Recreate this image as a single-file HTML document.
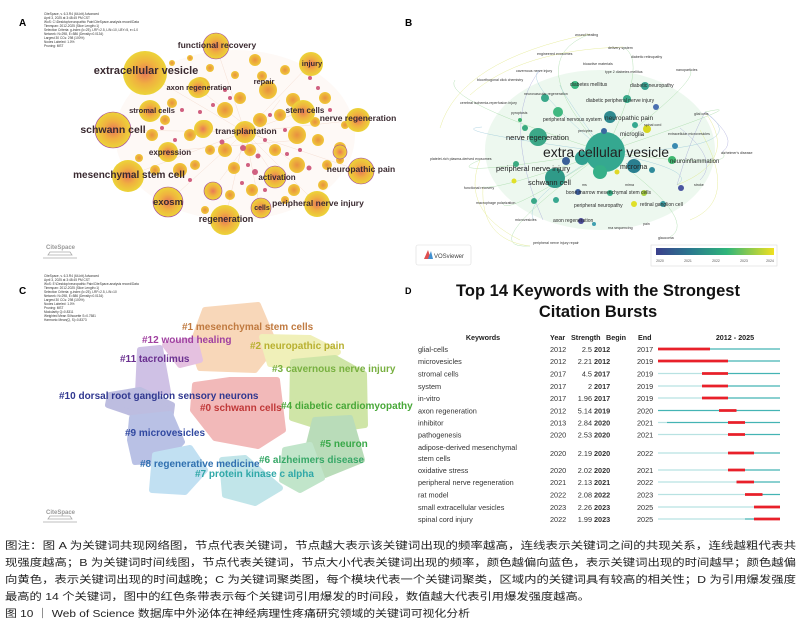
<!DOCTYPE html>
<html><head><meta charset="utf-8"><style>
body{margin:0;background:#fff}
svg{display:block}
text{font-family:"Liberation Sans","Noto Sans CJK SC",sans-serif}
</style></head><body>
<svg width="809" height="632" viewBox="0 0 809 632" xmlns="http://www.w3.org/2000/svg">
<defs>
<radialGradient id="ga"><stop offset="0" stop-color="#e87858"/><stop offset="0.5" stop-color="#f0b040"/><stop offset="1" stop-color="#ecd438"/></radialGradient>
<radialGradient id="gb"><stop offset="0" stop-color="#e89040"/><stop offset="1" stop-color="#f0c838"/></radialGradient>
<linearGradient id="vir" x1="0" x2="1"><stop offset="0" stop-color="#3b3f8c"/><stop offset="0.3" stop-color="#2a7a8e"/><stop offset="0.6" stop-color="#2fb57a"/><stop offset="1" stop-color="#f0e020"/></linearGradient>
</defs>
<rect width="809" height="632" fill="#fff"/>

<!-- PANEL A -->
<text x="19" y="26" font-size="10" font-weight="bold">A</text>
<g font-size="3.2" fill="#333"><text x="44" y="15">CiteSpace, v. 6.3.R4 (64-bit) Advanced</text><text x="44" y="19">April 3, 2025 at 3:48:45 PM CST</text><text x="44" y="23">WoS: C:\Desktop\neuropathic Pain\CiteSpace-analysis record\Data</text><text x="44" y="27">Timespan: 2012-2025 (Slice Length=1)</text><text x="44" y="31">Selection Criteria: g-index (k=25), LRF=2.5, L/N=10, LBY=5, e=1.0</text><text x="44" y="35">Network: N=298, E=586 (Density=0.0134)</text><text x="44" y="39">Largest 30 CCs: 298 (100%)</text><text x="44" y="43">Nodes Labeled: 1.0%</text><text x="44" y="47">Pruning: MST</text></g>
<ellipse cx="235" cy="135" rx="120" ry="85" fill="#fdf5f0" opacity="0.6"/>
<g stroke="#f0d0c0" stroke-width="0.4" fill="none" opacity="0.8">
<path d="M145 73 L245 132 L303 111 M113 130 L245 132 L361 171 M128 176 L245 132 L317 204 M168 202 L245 132 L225 220 M216 46 L245 132 L310 64 M358 120 L245 132 L275 177 M260 208 L245 132 M200 90 L290 160 M180 150 L300 140 M220 180 L280 100"/>
</g>
<g fill="url(#gb)">
<circle cx="200" cy="87" r="10"/><circle cx="172" cy="103" r="5"/><circle cx="152" cy="135" r="6"/><circle cx="190" cy="135" r="6"/><circle cx="205" cy="128" r="8"/><circle cx="225" cy="110" r="8"/><circle cx="240" cy="98" r="6"/><circle cx="255" cy="60" r="6"/><circle cx="262" cy="76" r="5"/><circle cx="268" cy="90" r="9"/><circle cx="285" cy="70" r="5"/><circle cx="293" cy="100" r="7"/><circle cx="325" cy="98" r="6"/><circle cx="318" cy="140" r="6"/><circle cx="297" cy="135" r="9"/><circle cx="275" cy="150" r="6"/><circle cx="225" cy="150" r="7"/><circle cx="195" cy="165" r="5"/><circle cx="180" cy="170" r="7"/><circle cx="234" cy="168" r="6"/><circle cx="252" cy="190" r="6"/><circle cx="215" cy="188" r="5"/><circle cx="230" cy="195" r="5"/><circle cx="294" cy="190" r="6"/><circle cx="297" cy="165" r="8"/><circle cx="327" cy="165" r="5"/><circle cx="340" cy="148" r="6"/><circle cx="315" cy="122" r="5"/><circle cx="345" cy="125" r="4"/><circle cx="172" cy="63" r="3"/><circle cx="190" cy="58" r="3"/><circle cx="210" cy="68" r="4"/><circle cx="235" cy="75" r="4"/><circle cx="280" cy="115" r="6"/><circle cx="260" cy="120" r="7"/><circle cx="250" cy="150" r="6"/><circle cx="210" cy="150" r="5"/><circle cx="165" cy="120" r="5"/><circle cx="139" cy="158" r="4"/><circle cx="155" cy="170" r="5"/><circle cx="323" cy="185" r="5"/><circle cx="340" cy="160" r="4"/><circle cx="285" cy="200" r="4"/><circle cx="205" cy="210" r="4"/></g>
<g fill="#d06080">
<circle cx="182" cy="110" r="2"/><circle cx="200" cy="112" r="2"/><circle cx="213" cy="105" r="2"/><circle cx="225" cy="90" r="2"/><circle cx="222" cy="142" r="2.5"/><circle cx="243" cy="148" r="3"/><circle cx="258" cy="156" r="2.5"/><circle cx="255" cy="172" r="3"/><circle cx="248" cy="165" r="2"/><circle cx="265" cy="140" r="2"/><circle cx="270" cy="115" r="2"/><circle cx="285" cy="130" r="2"/><circle cx="309" cy="168" r="2.5"/><circle cx="287" cy="154" r="2"/><circle cx="175" cy="140" r="2"/><circle cx="162" cy="128" r="2"/><circle cx="265" cy="190" r="2"/><circle cx="242" cy="183" r="2"/><circle cx="230" cy="98" r="2"/><circle cx="300" cy="150" r="2"/><circle cx="310" cy="78" r="2"/><circle cx="318" cy="88" r="2"/><circle cx="330" cy="110" r="2"/><circle cx="190" cy="180" r="2"/></g>
<g fill="url(#ga)">
<circle cx="145" cy="73" r="22"/><circle cx="113" cy="130" r="18" stroke="#a040a0" stroke-width="0.6"/><circle cx="128" cy="176" r="16"/><circle cx="168" cy="202" r="15" stroke="#a040a0" stroke-width="0.6"/><circle cx="225" cy="220" r="15"/><circle cx="317" cy="204" r="13"/><circle cx="361" cy="171" r="13" stroke="#a040a0" stroke-width="0.6"/><circle cx="358" cy="120" r="12"/><circle cx="311" cy="64" r="12"/><circle cx="216" cy="46" r="13" stroke="#a040a0" stroke-width="0.6"/><circle cx="261" cy="208" r="10" stroke="#a040a0" stroke-width="0.6"/><circle cx="275" cy="177" r="11" stroke="#a040a0" stroke-width="0.6"/><circle cx="245" cy="132" r="11"/><circle cx="303" cy="112" r="12"/><circle cx="150" cy="111" r="11"/><circle cx="198" cy="88" r="10"/><circle cx="213" cy="191" r="9" stroke="#a040a0" stroke-width="0.6"/><circle cx="168" cy="152" r="10"/><circle cx="203" cy="129" r="9"/><circle cx="340" cy="152" r="7" stroke="#a040a0" stroke-width="0.6"/></g>
<g font-weight="bold" fill="#3a2a30" text-anchor="middle">
<text x="146" y="74" font-size="11">extracellular vesicle</text>
<text x="217" y="48" font-size="8.5">functional recovery</text>
<text x="312" y="66" font-size="7.5">injury</text>
<text x="264" y="84" font-size="7.5">repair</text>
<text x="199" y="90" font-size="7.5">axon regeneration</text>
<text x="152" y="113" font-size="7.5">stromal cells</text>
<text x="305" y="113" font-size="8">stem cells</text>
<text x="358" y="121" font-size="8.5">nerve regeneration</text>
<text x="113" y="133" font-size="10.5">schwann cell</text>
<text x="246" y="134" font-size="8.5">transplantation</text>
<text x="170" y="155" font-size="8">expression</text>
<text x="129" y="178" font-size="10">mesenchymal stem cell</text>
<text x="361" y="172" font-size="8.5">neuropathic pain</text>
<text x="277" y="180" font-size="8">activation</text>
<text x="168" y="205" font-size="9.5">exosm</text>
<text x="318" y="206" font-size="8.5">peripheral nerve injury</text>
<text x="262" y="210" font-size="7">cells</text>
<text x="226" y="222" font-size="9">regeneration</text>
</g>
<text x="46" y="249" font-size="6" fill="#999" font-weight="bold">CiteSpace</text>
<path d="M43 258 L77 258 M48 255 L72 255 L70 252 L50 252 Z" stroke="#aaa" fill="none" stroke-width="0.8"/>

<!-- PANEL B -->
<text x="405" y="26" font-size="10" font-weight="bold">B</text>
<ellipse cx="600" cy="150" rx="115" ry="80" fill="#d8f0dc" opacity="0.45"/>
<g fill="none" stroke-width="0.5" opacity="0.6">
<path d="M605 152 Q520 60 590 34 M605 152 Q650 60 623 47 M605 152 Q440 100 455 80 M605 152 Q430 180 480 160 M605 152 Q470 250 530 246 M605 152 Q700 220 670 237 M605 152 Q760 100 705 112 M605 152 Q740 170 722 152 M605 152 Q700 80 690 70 M605 152 Q500 190 483 187 M605 152 Q500 220 503 202" stroke="#8cd08c"/>
<path d="M605 152 Q520 80 540 70 M605 152 Q560 90 560 85 M605 152 Q760 150 705 112 M605 152 Q700 170 677 185 M605 152 Q520 200 534 220 M605 152 Q440 130 482 127" stroke="#7fb9d0"/>
<path d="M440 128 Q460 60 590 34 M483 187 Q480 240 530 246 M705 112 Q740 160 677 185 M470 95 Q520 50 623 47 M480 160 Q460 210 520 240 M700 130 Q740 200 690 220" stroke="#d8e060"/>
<path d="M705 112 Q740 140 722 152 M705 112 Q690 140 677 185 M540 70 Q500 120 543 220 M680 128 Q720 160 700 180" stroke="#9090d0"/>
</g>
<g>
<circle cx="605" cy="152" r="20" fill="#35a890"/><circle cx="538" cy="137" r="9" fill="#3ca888"/><circle cx="555" cy="178" r="10" fill="#2f9a88"/><circle cx="582" cy="158" r="7" fill="#30a090"/><circle cx="600" cy="172" r="7" fill="#35b088"/><circle cx="634" cy="166" r="7" fill="#2a7f90"/><circle cx="610" cy="117" r="6" fill="#2f8a90"/><circle cx="558" cy="112" r="5" fill="#40b880"/><circle cx="545" cy="98" r="4" fill="#3aa88a"/><circle cx="575" cy="85" r="4" fill="#3cb882"/><circle cx="627" cy="99" r="4" fill="#38a888"/><circle cx="645" cy="86" r="4" fill="#38a090"/><circle cx="635" cy="125" r="3" fill="#35a890"/><circle cx="652" cy="170" r="3" fill="#2f8a9a"/><circle cx="672" cy="160" r="4" fill="#40b870"/><circle cx="566" cy="161" r="4" fill="#3a6098"/><circle cx="525" cy="128" r="3" fill="#3aaa80"/><circle cx="556" cy="200" r="3" fill="#38a890"/><circle cx="578" cy="192" r="3" fill="#3a5a98"/><circle cx="647" cy="129" r="4" fill="#d8d820"/><circle cx="617" cy="172" r="2.5" fill="#e0d828"/><circle cx="663" cy="204" r="3" fill="#3a9aa0"/><circle cx="610" cy="193" r="3" fill="#38b088"/><circle cx="681" cy="188" r="3" fill="#4a55a0"/><circle cx="656" cy="107" r="3" fill="#4a70b0"/><circle cx="604" cy="131" r="3" fill="#3a6aa0"/><circle cx="516" cy="164" r="3" fill="#3aaa80"/><circle cx="634" cy="204" r="3" fill="#e0e028"/><circle cx="644" cy="193" r="3" fill="#a8d040"/><circle cx="581" cy="221" r="3" fill="#4a4a98"/><circle cx="514" cy="181" r="2.5" fill="#e0e028"/><circle cx="534" cy="201" r="3" fill="#3aa888"/><circle cx="675" cy="146" r="3" fill="#3a8ab0"/><circle cx="520" cy="120" r="2" fill="#40b070"/><circle cx="594" cy="224" r="2" fill="#40a0b0"/></g>
<g fill="#333" font-size="3.6">
<text x="575" y="36">wound healing</text><text x="608" y="49">delivery system</text><text x="537" y="55">engineered exosomes</text><text x="631" y="58">diabetic retinopathy</text><text x="583" y="65">bioactive materials</text><text x="605" y="73">type 2 diabetes mellitus</text><text x="516" y="72">cavernous nerve injury</text><text x="676" y="71">nanoparticles</text><text x="477" y="81">bioorthogonal click chemistry</text><text x="524" y="95">neurovascular regeneration</text><text x="460" y="104">cerebral ischemia-reperfusion injury</text><text x="511" y="114">pyroptosis</text><text x="694" y="115">glial cells</text><text x="644" y="126">spinal cord</text><text x="668" y="135">extracellular microvesicles</text><text x="578" y="132">pericytes</text><text x="430" y="160">platelet-rich plasma-derived exosomes</text><text x="721" y="154">alzheimer's disease</text><text x="464" y="189">functional recovery</text><text x="694" y="186">stroke</text><text x="582" y="186">ms</text><text x="625" y="186">mirna</text><text x="476" y="204">macrophage polarization</text><text x="515" y="221">microvesicles</text><text x="658" y="239">glaucoma</text><text x="643" y="225">pain</text><text x="533" y="244">peripheral nerve injury repair</text><text x="608" y="229">rna sequencing</text></g>
<g fill="#2a2a2a" font-size="5">
<text x="570" y="86">diabetes mellitus</text><text x="630" y="87">diabetic neuropathy</text><text x="586" y="102">diabetic peripheral nerve injury</text><text x="543" y="121">peripheral nervous system</text><text x="605" y="120" font-size="6.5">neuropathic pain</text><text x="620" y="136" font-size="6">microglia</text><text x="670" y="163" font-size="6">neuroinflammation</text><text x="566" y="194">bone marrow mesenchymal stem cells</text><text x="574" y="207">peripheral neuropathy</text><text x="640" y="206">retinal ganglion cell</text><text x="553" y="222">axon regeneration</text></g>
<g fill="#222"><text x="506" y="140" font-size="7.5">nerve regeneration</text><text x="496" y="171" font-size="7.5">peripheral nerve injury</text><text x="528" y="185" font-size="7.5">schwann cell</text><text x="620" y="169" font-size="7">microrna</text><text x="543" y="157" font-size="14">extra cellular vesicle</text></g>
<rect x="416" y="245" width="55" height="20" rx="2" fill="#fff" stroke="#ddd" stroke-width="0.6"/>
<path d="M424 259 L428 250 L431 259 Z" fill="#e05050"/><path d="M428 259 L431 251 L433 259Z" fill="#4090d0"/>
<text x="434" y="258" font-size="6" fill="#444">VOSviewer</text>
<rect x="651" y="245" width="126" height="21" fill="#fff" stroke="#ddd" stroke-width="0.6"/>
<rect x="656" y="248" width="118" height="7" fill="url(#vir)"/>
<g font-size="3.5" fill="#555" text-anchor="middle"><text x="660" y="262">2020</text><text x="688" y="262">2021</text><text x="716" y="262">2022</text><text x="744" y="262">2023</text><text x="770" y="262">2024</text></g>

<!-- PANEL C -->
<text x="19" y="294" font-size="10" font-weight="bold">C</text>
<g font-size="3.2" fill="#333"><text x="44" y="277">CiteSpace, v. 6.3.R4 (64-bit) Advanced</text><text x="44" y="281">April 3, 2025 at 3:48:45 PM CST</text><text x="44" y="285">WoS: E:\Desktop\neuropathic Pain\CiteSpace-analysis record\Data</text><text x="44" y="289">Timespan: 2012-2025 (Slice Length=1)</text><text x="44" y="293">Selection Criteria: g-index (k=25), LRF=2.5, L/N=10</text><text x="44" y="297">Network: N=298, E=586 (Density=0.0134)</text><text x="44" y="301">Largest 30 CCs: 298 (100%)</text><text x="44" y="305">Nodes Labeled: 1.0%</text><text x="44" y="309">Pruning: MST</text><text x="44" y="313">Modularity Q=0.8311</text><text x="44" y="317">Weighted Mean Silhouette S=0.7581</text><text x="44" y="321">Harmonic Mean(Q, S)=0.8373</text></g>
<g opacity="0.55" stroke-linejoin="round" stroke-width="6">
<path d="M205 310 L258 305 L275 345 L255 370 L200 368 L192 345 Z" fill="#f4b880" stroke="#f4b880"/>
<path d="M165 345 L195 340 L200 360 L180 365 Z" fill="#d090c8" stroke="#d090c8"/>
<path d="M262 337 L310 338 L338 352 L315 367 L270 364 Z" fill="#e4e480" stroke="#e4e480"/>
<path d="M140 350 L160 348 L168 392 L138 393 Z" fill="#a890d0" stroke="#a890d0"/>
<path d="M110 395 L140 390 L172 405 L170 420 L140 416 L108 405 Z" fill="#8888c8" stroke="#8888c8"/>
<path d="M195 385 L230 380 L277 380 L283 430 L258 446 L215 438 L193 410 Z" fill="#e88080" stroke="#e88080"/>
<path d="M293 362 L335 358 L364 374 L365 425 L330 430 L292 418 Z" fill="#a8d060" stroke="#a8d060"/>
<path d="M132 418 L170 414 L182 442 L165 460 L135 462 L130 440 Z" fill="#8090d0" stroke="#8090d0"/>
<path d="M315 420 L350 418 L362 460 L325 475 L305 460 Z" fill="#80c080" stroke="#80c080"/>
<path d="M285 450 L310 445 L322 478 L300 490 L282 480 Z" fill="#90d0a0" stroke="#90d0a0"/>
<path d="M155 455 L190 448 L205 470 L185 492 L152 490 Z" fill="#90c8e8" stroke="#90c8e8"/>
<path d="M222 460 L245 458 L280 488 L255 503 L225 495 Z" fill="#90d0d8" stroke="#90d0d8"/>
</g>
<g font-size="10" font-weight="bold">
<text x="182" y="330" fill="#c07a40">#1 mesenchymal stem cells</text>
<text x="142" y="343" fill="#a040a0">#12 wound healing</text>
<text x="250" y="349" fill="#b8b030">#2 neuropathic pain</text>
<text x="120" y="362" fill="#6a3090">#11 tacrolimus</text>
<text x="272" y="372" fill="#78b040">#3 cavernous nerve injury</text>
<text x="59" y="399" fill="#303890">#10 dorsal root ganglion sensory neurons</text>
<text x="200" y="411" fill="#c03838">#0 schwann cells</text>
<text x="281" y="409" fill="#48a838">#4 diabetic cardiomyopathy</text>
<text x="125" y="436" fill="#3048a0">#9 microvesicles</text>
<text x="320" y="447" fill="#38a848">#5 neuron</text>
<text x="259" y="463" fill="#38a868">#6 alzheimers disease</text>
<text x="140" y="467" fill="#3070b0">#8 regenerative medicine</text>
<text x="195" y="477" fill="#30a8a8">#7 protein kinase c alpha</text>
</g>
<text x="46" y="514" font-size="6" fill="#999" font-weight="bold">CiteSpace</text>
<path d="M43 522 L77 522 M48 519 L72 519 L70 516 L50 516 Z" stroke="#aaa" fill="none" stroke-width="0.8"/>

<!-- PANEL D -->
<text x="405" y="294" font-size="9" font-weight="bold">D</text>
<text x="598" y="296" font-size="16.5" font-weight="bold" text-anchor="middle" fill="#111">Top 14 Keywords with the Strongest</text>
<text x="598" y="317" font-size="16.5" font-weight="bold" text-anchor="middle" fill="#111">Citation Bursts</text>
<g font-size="7.2" font-weight="bold" fill="#222"><text x="483" y="340" text-anchor="middle">Keywords</text><text x="550" y="340">Year</text><text x="571" y="340">Strength</text><text x="606" y="340">Begin</text><text x="638" y="340">End</text><text x="735" y="340" text-anchor="middle">2012 - 2025</text></g>
<g font-size="7.3" fill="#333">
<text x="418" y="352">glial-cells</text><text x="418" y="364">microvesicles</text><text x="418" y="376.5">stromal cells</text><text x="418" y="389">system</text><text x="418" y="401">in-vitro</text><text x="418" y="413.5">axon regeneration</text><text x="418" y="425.5">inhibitor</text><text x="418" y="437.5">pathogenesis</text><text x="418" y="450">adipose-derived mesenchymal</text><text x="418" y="461">stem cells</text><text x="418" y="473">oxidative stress</text><text x="418" y="485">peripheral nerve regeneration</text><text x="418" y="497.5">rat model</text><text x="418" y="510">small extracellular vesicles</text><text x="418" y="522">spinal cord injury</text>
</g>
<g font-size="7.3" fill="#333">
<g><text x="550" y="352">2012</text><text x="592" y="352" text-anchor="end">2.5</text><text x="594" y="352" font-weight="bold">2012</text><text x="637" y="352">2017</text></g>
<g><text x="550" y="364">2012</text><text x="592" y="364" text-anchor="end">2.21</text><text x="594" y="364" font-weight="bold">2012</text><text x="637" y="364">2019</text></g>
<g><text x="550" y="376.5">2017</text><text x="592" y="376.5" text-anchor="end">4.5</text><text x="594" y="376.5" font-weight="bold">2017</text><text x="637" y="376.5">2019</text></g>
<g><text x="550" y="389">2017</text><text x="592" y="389" text-anchor="end">2</text><text x="594" y="389" font-weight="bold">2017</text><text x="637" y="389">2019</text></g>
<g><text x="550" y="401">2017</text><text x="592" y="401" text-anchor="end">1.96</text><text x="594" y="401" font-weight="bold">2017</text><text x="637" y="401">2019</text></g>
<g><text x="550" y="413.5">2012</text><text x="592" y="413.5" text-anchor="end">5.14</text><text x="594" y="413.5" font-weight="bold">2019</text><text x="637" y="413.5">2020</text></g>
<g><text x="550" y="425.5">2013</text><text x="592" y="425.5" text-anchor="end">2.84</text><text x="594" y="425.5" font-weight="bold">2020</text><text x="637" y="425.5">2021</text></g>
<g><text x="550" y="437.5">2020</text><text x="592" y="437.5" text-anchor="end">2.53</text><text x="594" y="437.5" font-weight="bold">2020</text><text x="637" y="437.5">2021</text></g>
<g><text x="550" y="456">2020</text><text x="592" y="456" text-anchor="end">2.19</text><text x="594" y="456" font-weight="bold">2020</text><text x="637" y="456">2022</text></g>
<g><text x="550" y="473">2020</text><text x="592" y="473" text-anchor="end">2.02</text><text x="594" y="473" font-weight="bold">2020</text><text x="637" y="473">2021</text></g>
<g><text x="550" y="485">2021</text><text x="592" y="485" text-anchor="end">2.13</text><text x="594" y="485" font-weight="bold">2021</text><text x="637" y="485">2022</text></g>
<g><text x="550" y="497.5">2022</text><text x="592" y="497.5" text-anchor="end">2.08</text><text x="594" y="497.5" font-weight="bold">2022</text><text x="637" y="497.5">2023</text></g>
<g><text x="550" y="510">2023</text><text x="592" y="510" text-anchor="end">2.26</text><text x="594" y="510" font-weight="bold">2023</text><text x="637" y="510">2025</text></g>
<g><text x="550" y="522">2022</text><text x="592" y="522" text-anchor="end">1.99</text><text x="594" y="522" font-weight="bold">2023</text><text x="637" y="522">2025</text></g>
</g>
<g stroke-width="1.3" fill="none">
<g stroke="#b8e2e2"><path d="M658 373.5H702 M658 386H702 M658 398H702 M658 422.5H667 M658 434.5H728 M658 453H728 M658 470H728 M658 482H736.5 M658 494.5H745 M658 507H754 M658 519H745"/></g>
<g stroke="#44b4b4"><path d="M658 349H780 M658 361H780 M702 373.5H780 M702 386H780 M702 398H780 M658 410.5H780 M667 422.5H780 M728 434.5H780 M728 453H780 M728 470H780 M736.5 482H780 M745 494.5H780 M754 507H780 M745 519H780"/></g>
</g>
<g stroke="#e8202a" stroke-width="2.8" fill="none">
<path d="M658 349H710 M658 361H728 M702 373.5H728 M702 386H728 M702 398H728 M719 410.5H736.5 M728 422.5H745 M728 434.5H745 M728 453H754 M728 470H745 M736.5 482H754 M745 494.5H762.5 M754 507H780 M754 519H780"/>
</g>

<!-- CAPTION -->
<g font-size="10.3" fill="#222">
<text x="5" y="549" textLength="791" lengthAdjust="spacingAndGlyphs">图注：图 A 为关键词共现网络图，节点代表关键词，节点越大表示该关键词出现的频率越高，连线表示关键词之间的共现关系，连线越粗代表共</text>
<text x="5" y="566" textLength="791" lengthAdjust="spacingAndGlyphs">现强度越高；B 为关键词时间线图，节点代表关键词，节点大小代表关键词出现的频率，颜色越偏向蓝色，表示关键词出现的时间越早；颜色越偏</text>
<text x="5" y="583" textLength="791" lengthAdjust="spacingAndGlyphs">向黄色，表示关键词出现的时间越晚；C 为关键词聚类图，每个模块代表一个关键词聚类，区域内的关键词具有较高的相关性；D 为引用爆发强度</text>
<text x="5" y="600" textLength="585" lengthAdjust="spacingAndGlyphs">最高的 14 个关键词，图中的红色条带表示每个关键词引用爆发的时间段，数值越大代表引用爆发强度越高。</text>
<text x="5" y="617" textLength="465" lengthAdjust="spacingAndGlyphs">图 10 ｜ Web of Science 数据库中外泌体在神经病理性疼痛研究领域的关键词可视化分析</text>
</g>
</svg>
</body></html>
